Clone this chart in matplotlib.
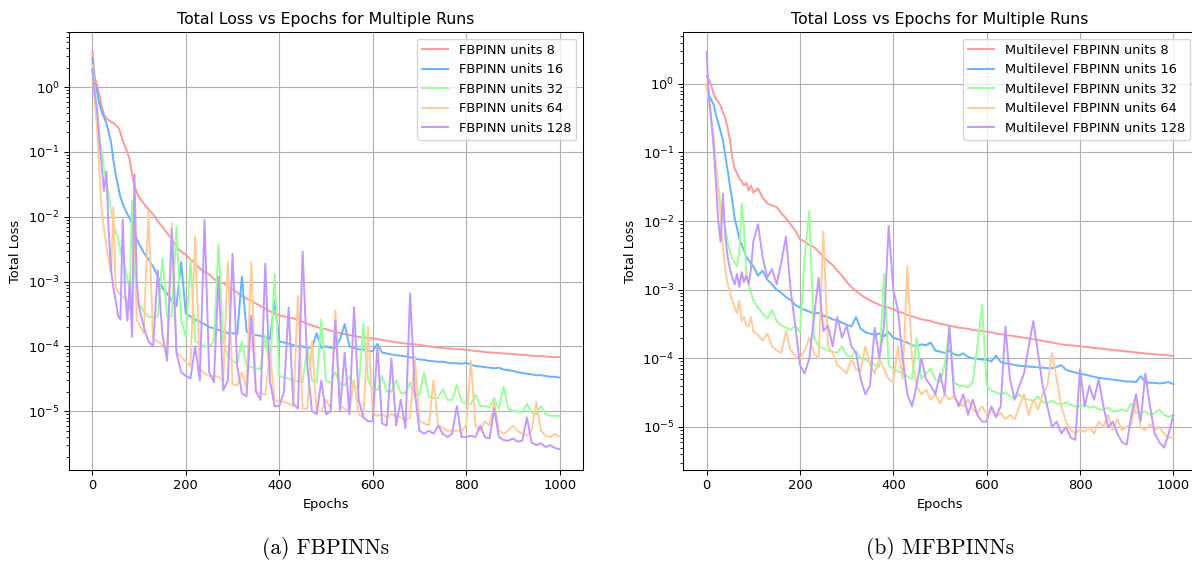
import numpy as np
import matplotlib
matplotlib.use("Agg")
import matplotlib.pyplot as plt

# ---------------- data ----------------
# epoch grid: every 5 epochs up to 95, then every 10 epochs up to 1000
epochs_early = list(range(0, 100, 5))
epochs_late = list(range(100, 1001, 10))
epochs = epochs_early + epochs_late

titles = ["Total Loss vs Epochs for Multiple Runs", "Total Loss vs Epochs for Multiple Runs"]
captions = ["(a) FBPINNs", "(b) MFBPINNs"]
units = [8, 16, 32, 64, 128]
labels_fb = [f"FBPINN units {u}" for u in units]
labels_ml = [f"Multilevel FBPINN units {u}" for u in units]

# ---- FBPINN (left) ----
fb8 = [3.6, 1.4, 1.1, 0.75, 0.5, 0.38, 0.33, 0.31, 0.29, 0.28, 0.26, 0.24, 0.2, 0.15, 0.12, 0.1, 0.075, 0.045, 0.03, 0.024,
       0.02, 0.016, 0.013, 0.011, 0.0085, 0.007, 0.0056, 0.0045, 0.0034, 0.0029,
       0.0026, 0.0022, 0.0019, 0.0016, 0.0014, 0.0013, 0.0011, 0.001, 9.5e-4, 8.5e-4,
       7.5e-4, 6.8e-4, 6e-4, 5.5e-4, 5e-4, 4.6e-4, 4.2e-4, 3.8e-4, 3.5e-4, 3.2e-4,
       3.0e-4, 2.9e-4, 2.8e-4, 2.7e-4, 2.6e-4, 2.4e-4, 2.25e-4, 2.1e-4, 2.0e-4, 1.9e-4,
       1.85e-4, 1.75e-4, 1.7e-4, 1.6e-4, 1.55e-4, 1.5e-4, 1.45e-4, 1.4e-4, 1.37e-4, 1.35e-4,
       1.34e-4, 1.3e-4, 1.26e-4, 1.22e-4, 1.19e-4, 1.16e-4, 1.13e-4, 1.11e-4, 1.09e-4, 1.08e-4,
       1.06e-4, 1.03e-4, 1.0e-4, 9.8e-5, 9.6e-5, 9.4e-5, 9.3e-5, 9.2e-5, 9.1e-5, 9.0e-5,
       8.9e-5, 8.7e-5, 8.5e-5, 8.4e-5, 8.2e-5, 8.1e-5, 8.0e-5, 7.9e-5, 7.8e-5, 7.7e-5,
       7.6e-5, 7.5e-5, 7.4e-5, 7.3e-5, 7.2e-5, 7.1e-5, 7.1e-5, 7.0e-5, 6.9e-5, 6.8e-5,
       6.9e-5]
fb16 = [2.8, 1.2, 0.85, 0.55, 0.42, 0.34, 0.28, 0.2, 0.14, 0.075, 0.045, 0.03, 0.02, 0.016, 0.013, 0.011, 0.0095, 0.0075, 0.006, 0.0045,
        0.0038, 0.0028, 0.0022, 0.0017, 0.0012, 8e-4, 6.5e-4, 5e-4, 4.2e-4, 0.002,
        3.2e-4, 2.9e-4, 2.6e-4, 2.4e-4, 2.2e-4, 2.0e-4, 1.9e-4, 1.8e-4, 1.7e-4, 1.6e-4,
        1.6e-4, 1.55e-4, 1.2e-3, 1.7e-4, 1.6e-4, 1.5e-4, 1.45e-4, 1.4e-4, 1.3e-4, 5e-4,
        1.2e-4, 1.15e-4, 1.1e-4, 1.05e-4, 1.0e-4, 1.0e-4, 9.5e-5, 9.5e-5, 1.6e-4, 9.5e-5,
        1.0e-4, 9.5e-5, 9.5e-5, 1.3e-4, 2.2e-4, 1.0e-4, 9.5e-5, 9.0e-5, 9.0e-5, 8.5e-5,
        8.5e-5, 1.1e-4, 8.0e-5, 7.8e-5, 7.5e-5, 7.3e-5, 7.2e-5, 7.0e-5, 6.8e-5, 6.5e-5,
        6.3e-5, 6.2e-5, 6.0e-5, 5.9e-5, 5.8e-5, 5.8e-5, 5.6e-5, 5.5e-5, 5.5e-5, 5.4e-5,
        5.6e-5, 5.2e-5, 5.0e-5, 4.9e-5, 4.8e-5, 4.7e-5, 4.6e-5, 4.7e-5, 4.4e-5, 4.3e-5,
        4.2e-5, 4.0e-5, 3.9e-5, 3.8e-5, 3.7e-5, 3.6e-5, 3.6e-5, 3.5e-5, 3.4e-5, 3.4e-5,
        3.3e-5]
fb32 = [2.2, 1.0, 0.45, 0.18, 0.1, 0.055, 0.035, 0.022, 0.012, 0.008, 0.006, 0.0045, 0.003, 0.0022, 0.0017, 0.0011, 7e-4, 0.018, 0.002, 5e-4,
        4.5e-4, 3.5e-4, 2.9e-4, 2.8e-4, 2.9e-4, 0.0023, 2.8e-4, 3.0e-4, 0.007, 2.5e-4,
        1.4e-4, 0.0022, 1.2e-4, 1.1e-4, 1.0e-4, 1.0e-4, 1.2e-4, 0.0037, 1.2e-4, 7e-5,
        6e-5, 5.5e-5, 1.2e-4, 5e-5, 4.8e-5, 4.6e-5, 4.5e-5, 1.5e-4, 4e-5, 0.0013,
        3.5e-5, 3.3e-5, 3.2e-5, 3.0e-5, 2.9e-5, 2.8e-5, 1.0e-4, 3.0e-5, 2.8e-5, 2.6e-4,
        3.0e-5, 2.7e-5, 4.0e-5, 2.6e-5, 2.5e-5, 3.5e-5, 2.4e-5, 2.3e-5, 2.2e-4, 3.0e-5,
        2.2e-5, 2.1e-5, 3.5e-5, 2.0e-5, 2.0e-5, 3.0e-5, 1.9e-5, 1.9e-5, 2.8e-5, 1.8e-5,
        1.8e-5, 4.0e-5, 1.7e-5, 1.6e-5, 1.6e-5, 2.2e-5, 1.5e-5, 1.5e-5, 2.6e-5, 1.4e-5,
        1.3e-5, 1.3e-5, 1.8e-5, 1.2e-5, 1.2e-5, 1.15e-5, 1.6e-5, 1.1e-5, 2.4e-5, 1.1e-5,
        1.0e-5, 1.0e-5, 9.5e-6, 1.3e-5, 9.5e-6, 9.0e-6, 1.2e-5, 9.0e-6, 8.5e-6, 8.5e-6,
        8.5e-6]
fb64 = [2.0, 0.6, 0.25, 0.05, 0.012, 0.0065, 0.0035, 0.0022, 0.0013, 0.014, 8e-4, 7e-4, 6.2e-4, 5.8e-4, 5.5e-4, 5e-4, 4e-4, 3e-4, 0.015, 2.6e-4,
        2.2e-4, 1.6e-4, 0.012, 1.3e-4, 1.2e-4, 1.05e-4, 9e-5, 0.008, 8e-5, 7e-5,
        5.8e-5, 5e-5, 0.005, 4.5e-5, 3.8e-5, 3.5e-5, 3.5e-5, 3.4e-5, 3e-5, 0.002,
        2.6e-5, 2.5e-5, 4e-5, 2.2e-5, 0.002, 2e-5, 1.9e-5, 1.8e-5, 8e-5, 1.5e-5,
        1.4e-5, 1.4e-5, 1.3e-5, 1.2e-5, 6e-4, 1.1e-5, 1.1e-5, 1.2e-4, 1.0e-5, 1.0e-5,
        1.5e-5, 1.1e-5, 3.6e-4, 1.2e-5, 1.1e-5, 1.0e-5, 3e-5, 9e-6, 8e-6, 2e-4,
        9e-6, 8.5e-6, 9e-6, 8e-6, 9e-6, 8.5e-6, 8e-6, 7.5e-6, 8e-6, 7e-5,
        7e-6, 6.5e-6, 6e-6, 3e-5, 6e-6, 5.5e-6, 5e-6, 5e-6, 5e-6, 5e-6,
        6e-6, 6e-5, 6e-6, 5e-6, 7e-6, 6e-6, 1.4e-5, 5e-6, 4.5e-6, 5e-6,
        6e-6, 5e-6, 4.5e-6, 4.2e-6, 5e-6, 1.4e-5, 5e-6, 4.2e-6, 4e-6, 4.5e-6,
        4e-6]
fb128 = [1.9, 0.8, 0.45, 0.15, 0.06, 0.025, 0.05, 0.006, 0.0015, 8e-4, 5e-4, 3e-4, 2.6e-4, 0.009, 7e-4, 2.5e-4, 0.001, 1.4e-4, 0.045, 0.001,
         4e-4, 2e-4, 1.2e-4, 1e-4, 0.0015, 1.5e-4, 6e-5, 0.0065, 8e-5, 4e-5,
         3.5e-5, 3.2e-5, 1e-4, 3e-5, 0.009, 4e-5, 2.8e-5, 0.0012, 2.1e-5, 3e-5,
         0.0027, 5e-5, 1.9e-5, 1.7e-5, 3e-4, 2e-5, 1.5e-5, 0.0019, 3e-5, 1.2e-5,
         1.2e-5, 2e-5, 4e-4, 1.3e-5, 1.1e-5, 0.0029, 5e-5, 1e-5, 9e-6, 3e-5,
         9e-6, 1e-5, 2.5e-4, 1e-5, 8e-5, 9e-6, 4e-4, 1.5e-5, 8e-6, 7e-6,
         7e-6, 1e-4, 6.5e-6, 6e-6, 6.5e-5, 6e-6, 1.5e-5, 5.5e-6, 6.6e-4, 2e-5,
         5e-6, 4.5e-6, 5e-6, 4.5e-6, 6e-6, 4.5e-6, 4e-6, 4.5e-6, 1.2e-5, 4e-6,
         4e-6, 4.2e-6, 4e-6, 6e-6, 4e-6, 3.8e-6, 1.1e-5, 4e-6, 3.6e-6, 3.5e-6,
         3.8e-6, 3.4e-6, 3.5e-6, 8e-6, 3.3e-6, 3e-6, 3.2e-6, 2.8e-6, 3e-6, 2.7e-6,
         2.6e-6]

# ---- Multilevel FBPINN (right) ----
ml8 = [1.3, 1.15, 0.95, 0.72, 0.6, 0.55, 0.48, 0.38, 0.32, 0.23, 0.15, 0.085, 0.058, 0.05, 0.042, 0.038, 0.033, 0.036, 0.028, 0.033,
       0.026, 0.03, 0.022, 0.018, 0.017, 0.016, 0.013, 0.011, 0.009, 0.0072,
       0.0055, 0.005, 0.0045, 0.0042, 0.0036, 0.003, 0.0026, 0.0023, 0.0019, 0.0016,
       0.0013, 0.0011, 9.5e-4, 8.5e-4, 7.6e-4, 7e-4, 6.5e-4, 6e-4, 5.7e-4, 5.5e-4,
       5.2e-4, 4.8e-4, 4.6e-4, 4.3e-4, 4.1e-4, 3.9e-4, 3.7e-4, 3.6e-4, 3.5e-4, 3.3e-4,
       3.2e-4, 3.1e-4, 3e-4, 2.9e-4, 2.8e-4, 2.75e-4, 2.7e-4, 2.6e-4, 2.55e-4, 2.5e-4,
       2.45e-4, 2.4e-4, 2.3e-4, 2.25e-4, 2.2e-4, 2.15e-4, 2.1e-4, 2.05e-4, 2e-4, 1.95e-4,
       1.9e-4, 1.85e-4, 1.8e-4, 1.75e-4, 1.7e-4, 1.65e-4, 1.6e-4, 1.57e-4, 1.55e-4, 1.52e-4,
       1.5e-4, 1.47e-4, 1.45e-4, 1.42e-4, 1.4e-4, 1.38e-4, 1.35e-4, 1.32e-4, 1.3e-4, 1.28e-4,
       1.26e-4, 1.25e-4, 1.22e-4, 1.2e-4, 1.18e-4, 1.16e-4, 1.15e-4, 1.13e-4, 1.12e-4, 1.1e-4,
       1.08e-4]
ml16 = [0.9, 0.7, 0.58, 0.5, 0.35, 0.27, 0.2, 0.15, 0.09, 0.055, 0.032, 0.02, 0.011, 0.008, 0.0055, 0.0045, 0.0038, 0.003, 0.0027, 0.0024,
        0.0022, 0.0016, 0.0019, 0.0014, 0.0012, 0.001, 9e-4, 7.8e-4, 7.1e-4, 6e-4,
        5.5e-4, 5.1e-4, 4.8e-4, 4.5e-4, 4.6e-4, 4.2e-4, 4e-4, 3.7e-4, 3.6e-4, 3.3e-4,
        3.1e-4, 2.9e-4, 4e-4, 2.7e-4, 2.4e-4, 2.3e-4, 2.2e-4, 2.3e-4, 2.1e-4, 2.4e-4,
        2e-4, 1.9e-4, 1.8e-4, 1.7e-4, 1.55e-4, 1.5e-4, 1.6e-4, 1.55e-4, 1.7e-4, 1.3e-4,
        1.25e-4, 1.2e-4, 1.3e-4, 1.15e-4, 1.1e-4, 1.18e-4, 1.05e-4, 1e-4, 9.8e-5, 9.6e-5,
        9.5e-5, 9e-5, 1.1e-4, 8.8e-5, 8.5e-5, 8.3e-5, 8e-5, 7.8e-5, 7.7e-5, 7.6e-5,
        7.5e-5, 7.4e-5, 7.3e-5, 7.2e-5, 7.2e-5, 7.5e-5, 8e-5, 6.8e-5, 6.5e-5, 6.2e-5,
        6e-5, 5.8e-5, 5.6e-5, 5.4e-5, 5.2e-5, 5.1e-5, 5e-5, 4.9e-5, 4.8e-5, 4.7e-5,
        4.6e-5, 4.6e-5, 4.5e-5, 5.5e-5, 4.5e-5, 4.4e-5, 4.4e-5, 4.3e-5, 4.4e-5, 4.5e-5,
        4.2e-5]
ml32 = [1.0, 0.6, 0.3, 0.13, 0.06, 0.03, 0.017, 0.011, 0.008, 0.005, 0.0035, 0.0028, 0.0025, 0.0022, 0.0035, 0.018, 0.008, 0.0018, 0.0012, 9e-4,
        7e-4, 5.5e-4, 4.5e-4, 3.8e-4, 5e-4, 3.5e-4, 3e-4, 2.8e-4, 2.6e-4, 3e-4,
        2.4e-4, 0.003, 0.014, 2e-4, 1.5e-4, 1.4e-4, 1.3e-4, 1.25e-4, 1.2e-4, 1.5e-4,
        1.1e-4, 1.05e-4, 1.3e-4, 1e-4, 9.5e-5, 9e-5, 8e-5, 7.5e-5, 0.0017, 8e-5,
        7e-5, 6.5e-5, 6e-5, 5.5e-5, 5e-5, 2e-4, 5e-5, 6e-5, 7e-5, 5e-5,
        4.5e-5, 8e-5, 2.9e-4, 4.5e-5, 4e-5, 4e-5, 3.8e-5, 4.5e-5, 1.5e-4, 6e-4,
        4e-5, 3.4e-5, 3.2e-5, 3e-5, 3.2e-5, 2.8e-5, 2.6e-5, 3e-5, 2.6e-5, 2.5e-5,
        2.4e-5, 2.8e-5, 2.3e-5, 2.2e-5, 2.4e-5, 2.2e-5, 2.1e-5, 2.3e-5, 2.1e-5, 2e-5,
        2e-5, 2.1e-5, 1.9e-5, 2e-5, 1.8e-5, 1.8e-5, 1.9e-5, 1.7e-5, 1.7e-5, 1.8e-5,
        1.7e-5, 2.2e-5, 1.6e-5, 1.6e-5, 1.7e-5, 1.5e-5, 1.6e-5, 1.8e-5, 1.5e-5, 1.4e-5,
        1.5e-5]
ml64 = [1.0, 0.55, 0.3, 0.17, 0.07, 0.032, 0.012, 0.004, 0.002, 0.0012, 9e-4, 7e-4, 5.5e-4, 4.5e-4, 7e-4, 3.5e-4, 4e-4, 3e-4, 2.9e-4, 4e-4,
        2.5e-4, 2.2e-4, 1.8e-4, 2.3e-4, 1.5e-4, 1.3e-4, 1.2e-4, 2.5e-4, 1.3e-4, 1.1e-4,
        1e-4, 1.3e-4, 2e-4, 1.2e-4, 1e-4, 0.007, 1.5e-4, 1.2e-4, 8e-5, 7e-5,
        6e-5, 1e-4, 7e-5, 6.5e-5, 1.5e-4, 8e-5, 6e-5, 1e-4, 7e-5, 5e-5,
        4.5e-5, 1.5e-4, 5e-5, 0.0022, 1e-4, 4e-5, 3e-5, 3.5e-5, 2.5e-5, 3e-5,
        2.2e-5, 3e-5, 2.5e-5, 2.8e-5, 2.2e-5, 2e-5, 2.5e-5, 1.8e-5, 1.6e-5, 2e-5,
        1.5e-5, 1.8e-5, 1.4e-5, 1.6e-5, 1.3e-5, 1.5e-5, 1.3e-5, 2e-5, 3e-5, 1.5e-5,
        2.5e-5, 1.8e-5, 3e-5, 4e-5, 1.2e-4, 5e-5, 2e-5, 1.2e-5, 9e-6, 8e-6,
        9e-6, 8.5e-6, 1e-5, 8e-6, 1.2e-5, 1e-5, 1.5e-5, 9e-6, 1.3e-5, 9e-6,
        1e-5, 1.1e-5, 2.5e-5, 1e-5, 9e-6, 1.1e-5, 9e-6, 1e-5, 8e-6, 7e-6,
        7e-6]
ml128 = [2.9, 0.6, 0.3, 0.12, 0.035, 0.01, 0.005, 0.025, 0.006, 0.003, 0.002, 0.0015, 0.0012, 0.0017, 0.0011, 0.0018, 0.0013, 0.0016, 0.0012, 0.002,
         0.005, 0.009, 0.003, 0.0015, 0.002, 0.0012, 0.0025, 0.006, 0.001, 3e-4,
         8e-5, 6e-5, 1e-4, 4e-4, 0.0015, 2.5e-4, 3e-4, 1.5e-4, 4e-4, 2e-4,
         3e-4, 1.5e-4, 1.2e-4, 5e-5, 3e-5, 4e-5, 2.8e-4, 1e-4, 3e-4, 0.0085,
         0.001, 5e-4, 1e-4, 3e-5, 2e-5, 4e-5, 1e-4, 5e-5, 4e-5, 3e-5,
         6e-5, 3e-5, 2.9e-4, 3e-5, 2e-5, 3e-5, 1.5e-5, 2.5e-5, 1.5e-5, 1.2e-5,
         1.2e-5, 2e-5, 1.4e-5, 2e-5, 2.9e-4, 5e-5, 2.5e-5, 4e-5, 6e-5, 1.5e-4,
         3.5e-4, 1.2e-4, 4e-5, 2e-5, 1e-5, 1.2e-5, 8e-6, 1e-5, 7e-6, 6.5e-6,
         7e-5, 2e-5, 4e-5, 2.5e-5, 5e-5, 2e-5, 1e-5, 1.2e-5, 8e-6, 6e-6,
         5.5e-6, 1.5e-5, 3e-5, 1.2e-5, 6e-5, 2e-5, 8e-6, 6e-6, 5e-6, 8e-6,
         1.5e-5]

series_fb = [fb8, fb16, fb32, fb64, fb128]
series_ml = [ml8, ml16, ml32, ml64, ml128]
for s in series_fb + series_ml:
    assert len(s) == len(epochs), len(s)

colors = ["#ff9999", "#66b3ff", "#99ff99", "#ffcc99", "#c299ff"]

# ---------------- figure ----------------
W, H = 1192, 561
fig = plt.figure(figsize=(W / 100, H / 100), dpi=100)

FS = 9.4
plt.rcParams.update({
    "font.family": "DejaVu Sans",
    "xtick.labelsize": FS,
    "ytick.labelsize": FS,
})

def px_axes(x0, x1, ytop, ybot):
    return [x0 / W, 1 - ybot / H, (x1 - x0) / W, (ybot - ytop) / H]

ax1 = fig.add_axes(px_axes(69, 583, 32, 470))
ax2 = fig.add_axes(px_axes(683.3, 1196.7, 32, 470))

panels = [
    (ax1, series_fb, labels_fb, (1.24e-6, 7.1)),
    (ax2, series_ml, labels_ml, (2.36e-6, 5.7)),
]

for i, (ax, series, labels, ylim) in enumerate(panels):
    for s, lab, c in zip(series, labels, colors):
        ax.plot(epochs, s, color=c, lw=1.4, label=lab)
    ax.set_yscale("log")
    ax.set_xlim(-50, 1050)
    ax.set_ylim(*ylim)
    ax.set_xticks([0, 200, 400, 600, 800, 1000])
    ax.grid(True, which="major", color="#b0b0b0", lw=0.8)
    ax.set_title(titles[i], fontsize=11.3, pad=6)
    ax.set_xlabel("Epochs", fontsize=FS)
    ax.set_ylabel("Total Loss", fontsize=FS)
    ax.tick_params(which="major", length=3.3, width=0.75)
    ax.tick_params(which="minor", length=1.9, width=0.6)
    for sp in ax.spines.values():
        sp.set_linewidth(0.75)
    ax.legend(loc="upper right", fontsize=FS, framealpha=0.8, borderaxespad=0.5)

fig.text((69 + 583) / 2 / W, 1 - 548 / H, captions[0], ha="center", va="center",
         fontsize=15.5, family="cmr10")
fig.text((683.3 + 1196.7) / 2 / W, 1 - 548 / H, captions[1], ha="center", va="center",
         fontsize=15.5, family="cmr10")

fig.savefig("out.png", dpi=100)
